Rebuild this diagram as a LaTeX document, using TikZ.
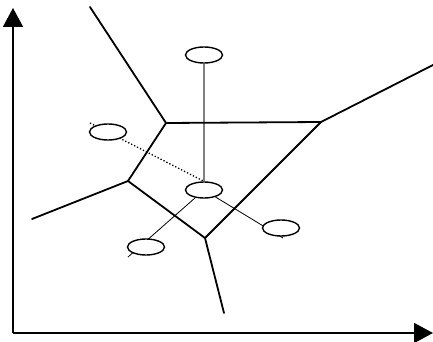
\documentclass[tikz,border=0pt]{standalone}
\usetikzlibrary{arrows.meta,shapes.geometric,backgrounds}
\begin{document}
\begin{tikzpicture}[x=1pt,y=-1pt,
  edge/.style={line width=1.8pt,black,line cap=round,line join=round},
  axis/.style={line width=1.8pt,black,-{Triangle[length=19pt,width=20pt]}},
  site/.style={ellipse,draw,line width=1.4pt,fill=white,minimum width=37pt,minimum height=16pt,inner sep=0pt},
  link/.style={line width=0.8pt,black},
  glink/.style={line width=1.5pt,gray},
  dlink/.style={line width=1.3pt,black,dotted}]
\useasboundingbox (0,0) rectangle (433,342);
% sites
\node[site] (s1) at (204,55) {};
\node[site] (s2) at (108,132) {};
\node[site] (s0) at (204,190) {};
\node[site] (s3) at (146,247) {};
\node[site] (s4) at (281,228) {};
% axes
\coordinate (O) at (13,333);
\coordinate (Ytip) at (13,8);
\coordinate (Xtip) at (433,333);
\draw[axis] (O) -- (Ytip);
\draw[axis] (O) -- (Xtip);
% Voronoi vertices
\coordinate (A) at (166,123);
\coordinate (B) at (321,122);
\coordinate (C) at (205,238);
\coordinate (D) at (128,181);
\coordinate (Ar) at (90,7);
\coordinate (Br) at (433,65);
\coordinate (Dr) at (32,219);
\coordinate (Cr) at (224,313);
% free ends of links
\coordinate (e1) at (90,123);
\coordinate (e2) at (128,257);
\coordinate (e3) at (283,238);
\begin{scope}[on background layer]
% links (under sites)
\draw[dlink] (e1) -- (s0.north);
\draw[glink] (s1.south) -- (s0.north);
\draw[link] (s0) -- (e2);
\draw[link] (s0) -- (e3);
% edges
\draw[edge] (Ar) -- (A) -- (B) -- (Br);
\draw[edge] (A) -- (D) -- (C) -- (B);
\draw[edge] (D) -- (Dr);
\draw[edge] (C) -- (Cr);
\end{scope}
\end{tikzpicture}
\end{document}
